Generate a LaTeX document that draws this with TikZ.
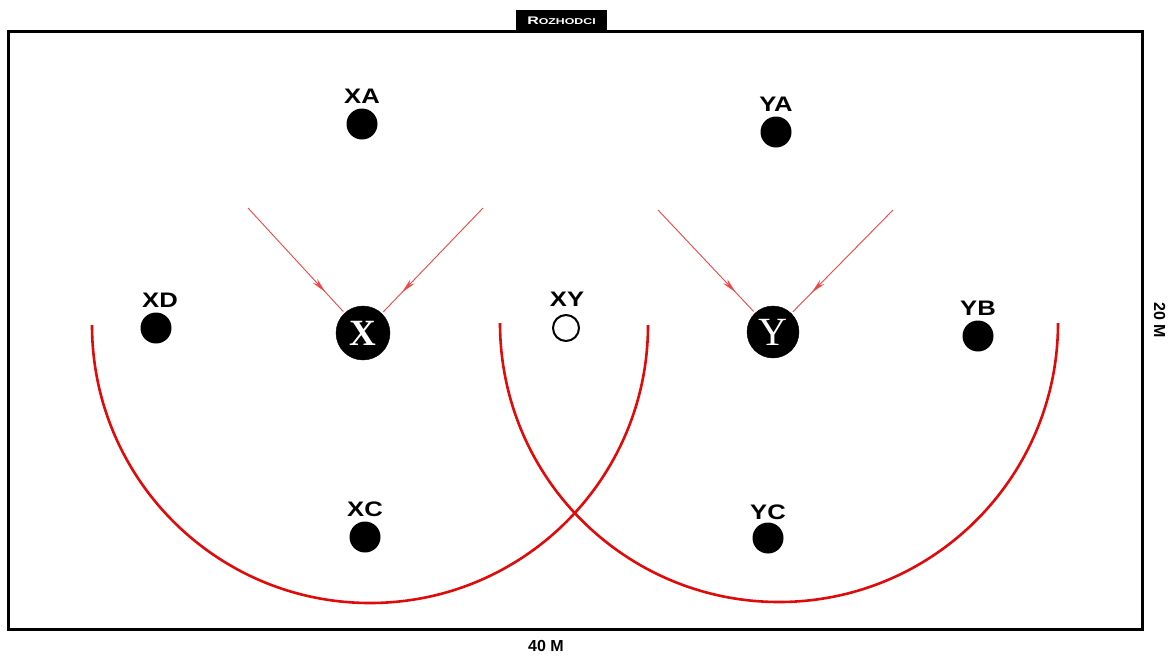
\documentclass[tikz,border=0pt]{standalone}
\usepackage{fontspec}
\setmainfont{Liberation Sans}
\newfontfamily\serifx{Liberation Serif}
\usetikzlibrary{arrows.meta,decorations.markings}
\definecolor{arcred}{RGB}{225,10,10}
\definecolor{arrred}{RGB}{240,70,70}
\tikzset{
  player/.style={circle,fill=black,minimum size=31pt,inner sep=0pt},
  big/.style={circle,fill=black,draw=black,minimum size=54pt,inner sep=0pt,text=white},
  lab/.style={font=\bfseries\fontsize{21}{21}\selectfont,inner sep=0pt,xscale=1.22},
  dim/.style={font=\bfseries\fontsize{16}{16}\selectfont,inner sep=0pt},
  arr/.style={arrred,line width=0.9pt,shorten >=2pt,
    postaction={decorate},
    decoration={markings,mark=at position 0.8 with {\arrow{Stealth[length=15pt,width=6pt]}}}},
  courtarc/.style={arcred,line width=2.6pt}
}
\begin{document}
\begin{tikzpicture}[x=1pt,y=-1pt]
\useasboundingbox (0,0) rectangle (1173,657);
% court
\draw[line width=3pt] (8,31) rectangle (1142,629);
\node[fill=black,text=white,minimum width=91pt,minimum height=21pt,inner sep=0pt,anchor=south,font=\bfseries] (ref) at (561.5,31) {\scalebox{1.45}[1]{\fontsize{11}{11}\selectfont R\fontsize{8.5}{8.5}\selectfont OZHODCI}};
% arcs
\draw[courtarc] (92,325) arc[start angle=180,end angle=0,radius=278];
\draw[courtarc] (500,323) arc[start angle=180,end angle=0,radius=279];
% players
\node[player] (xa) at (362,124) {};
\node[lab] at (362,96) {XA};
\node[player] (ya) at (776,132) {};
\node[lab] at (776,104) {YA};
\node[player] (xd) at (156,328) {};
\node[lab] at (160,300) {XD};
\node[player] (yb) at (978,336) {};
\node[lab] at (978,308) {YB};
\node[player] (xc) at (365,537) {};
\node[lab] at (365,509) {XC};
\node[player] (yc) at (768,538) {};
\node[lab] at (768,512) {YC};
\node[circle,draw=black,line width=2pt,minimum size=26pt,inner sep=0pt] (xy) at (566,328) {};
\node[lab] at (567,299) {XY};
\node[big,font=\serifx\bfseries\fontsize{37}{37}\selectfont] (x) at (363,333) {X};
\node[big,minimum size=52pt,font=\serifx\fontsize{40}{40}\selectfont] (y) at (773,332) {Y};
% arrows
\coordinate (x1) at (248,208);
\coordinate (x2) at (483,208);
\coordinate (y1) at (658,210);
\coordinate (y2) at (893,210);
\draw[arr] (x1) -- (x);
\draw[arr] (x2) -- (x);
\draw[arr] (y1) -- (y);
\draw[arr] (y2) -- (y);
% dimensions
\node[dim] (w) at (546,646) {40 M};
\node[dim,rotate=-90] (h) at (1159.5,320) {20 M};
\end{tikzpicture}
\end{document}
